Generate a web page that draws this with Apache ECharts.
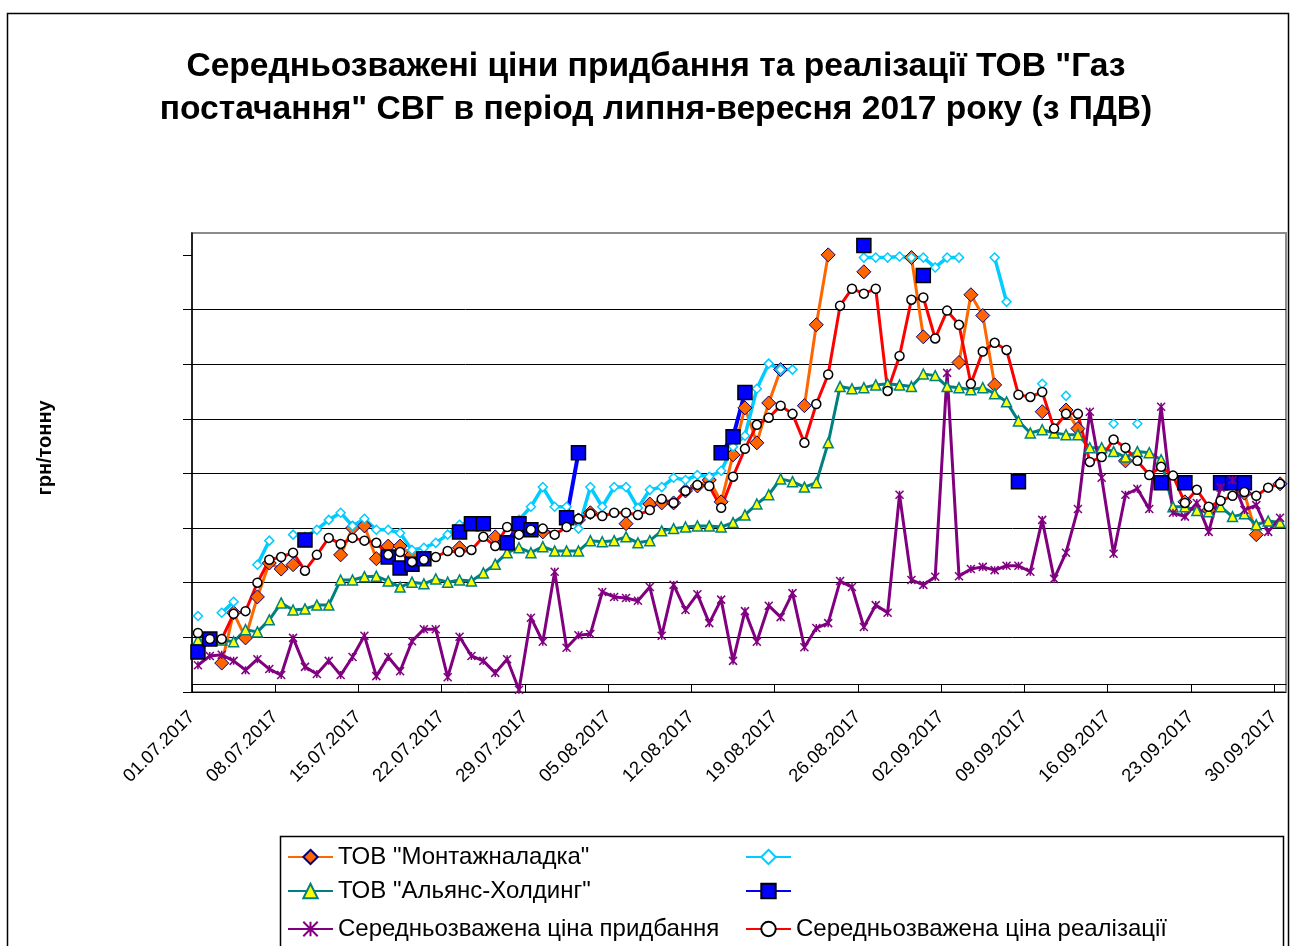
<!DOCTYPE html>
<html><head><meta charset="utf-8">
<script src="https://cdn.jsdelivr.net/npm/echarts@6/dist/echarts.min.js"></script>
<style>html,body{margin:0;padding:0;background:#fff}#c{width:1291px;height:946px}</style>
</head><body><div id="c"></div>
<script>
const dates = [
'01.07','02.07','03.07','04.07','05.07','06.07','07.07','08.07','09.07','10.07','11.07','12.07','13.07','14.07','15.07','16.07','17.07','18.07','19.07','20.07','21.07','22.07','23.07','24.07','25.07','26.07','27.07','28.07','29.07','30.07','31.07',
'01.08','02.08','03.08','04.08','05.08','06.08','07.08','08.08','09.08','10.08','11.08','12.08','13.08','14.08','15.08','16.08','17.08','18.08','19.08','20.08','21.08','22.08','23.08','24.08','25.08','26.08','27.08','28.08','29.08','30.08','31.08',
'01.09','02.09','03.09','04.09','05.09','06.09','07.09','08.09','09.09','10.09','11.09','12.09','13.09','14.09','15.09','16.09','17.09','18.09','19.09','20.09','21.09','22.09','23.09','24.09','25.09','26.09','27.09','28.09','29.09','30.09'];
const tickLabels = ['01.07.2017','08.07.2017','15.07.2017','22.07.2017','29.07.2017','05.08.2017','12.08.2017','19.08.2017','26.08.2017','02.09.2017','09.09.2017','16.09.2017','23.09.2017','30.09.2017'];

const montazh = [
null,null,530,1450,990,1740,2360,2250,2330,null,
null,null,2510,3000,3040,2440,2670,2670,2510,2440,
null,null,2640,null,null,2840,null,null,null,2930,
null,null,3150,3280,null,null,3080,null,3440,3460,
3460,3680,3770,3880,3480,4340,5200,4560,5290,5900,
null,5240,6720,8000,null,null,7690,null,null,null,
7950,6500,null,null,6030,7270,6890,5620,null,null,
null,5130,null,5160,4820,null,null,null,4230,null,
null,null,null,3480,null,3330,null,null,3640,2880,
null,3810];
const cyanSeries = [
1390,null,1450,1650,null,2330,2770,null,2880,2840,
2970,3150,3280,3040,3170,2970,2970,2910,2600,2640,
2730,2880,3060,3110,3110,null,null,3150,3390,3750,
3390,3390,2990,3750,3390,3750,3750,3370,3700,3750,
3920,3880,3970,3940,4050,4490,4690,5550,6010,5900,
5900,null,null,null,null,null,7950,7950,7950,7970,
7950,7950,7770,7950,7950,null,null,7950,7140,null,
null,5640,null,5420,null,null,null,4910,null,4910,
null,null,null,null,null,null,null,null,null,null,
null,null];
const alians = [
950,950,950,920,1140,1100,1320,1630,1500,1520,
1590,1590,2050,2050,2110,2120,2030,1920,2010,1980,
2070,2010,2050,2030,2180,2340,2550,2640,2550,2660,
2580,2580,2580,2770,2750,2770,2840,2730,2770,2950,
2990,3020,3040,3040,3020,3100,3240,3440,3610,3900,
3850,3750,3830,4560,5590,5550,5570,5620,5640,5620,
5590,5820,5790,5590,5570,5530,5570,5460,5310,4960,
4740,4800,4740,4710,4710,4470,4470,4400,4300,4400,
4380,4250,3390,3390,3320,3300,3390,3210,3260,3060,
3130,3100];
const blueSeries = [
730,970,null,null,null,null,null,null,null,2780,
null,null,null,null,null,null,2470,2270,2340,2440,
null,null,2930,3080,3080,null,2730,3080,2970,null,
null,3190,4380,null,null,null,null,null,null,null,
null,null,null,null,4380,4670,5480,null,null,null,
null,null,null,null,null,null,8170,null,null,null,
null,7620,null,null,null,null,null,null,null,3850,
null,null,null,null,null,null,null,null,null,null,
null,3830,null,3830,null,null,3830,3830,3830,null,
null,null];
const purchase = [
490,660,680,570,400,600,420,310,990,460,
330,570,310,640,1030,290,640,380,930,1150,
1150,270,1010,660,570,350,600,40,1360,920,
2200,810,1040,1060,1830,1740,1720,1670,1920,1030,
1960,1500,1790,1260,1690,570,1480,920,1580,1370,
1810,820,1170,1260,2030,1920,1190,1590,1450,3610,
2050,1960,2110,5840,2120,2250,2290,2230,2310,2310,
2200,3150,2070,2550,3350,5130,3920,2530,3610,3720,
3350,5220,3280,3210,3460,2930,3740,3880,3330,3420,
2930,3190];
const sales = [
1080,970,970,1430,1480,2000,2420,2470,2550,2220,
2510,2820,2710,2820,2770,2730,2510,2560,2380,2420,
2470,2580,2560,2600,2840,2670,3020,2880,2970,2990,
2880,3020,3170,3260,3220,3280,3280,3240,3330,3530,
3460,3680,3790,3770,3370,3940,4450,4890,5020,5240,
5090,4560,5270,5810,7070,7380,7290,7380,5510,6150,
7180,7220,6470,6980,6720,5640,6230,6390,6260,5440,
5400,5490,4820,5090,5090,4210,4300,4620,4470,4230,
3970,4120,3960,3460,3700,3390,3500,3590,3660,3590,
3740,3810];

const yTicks = [0,1000,2000,3000,4000,5000,6000,7000,8000];
const names = ['ТОВ "Монтажналадка"',' ','ТОВ "Альянс-Холдинг"','  ','Середньозважена ціна придбання','Середньозважена ціна реалізації'];
const FF = '"Liberation Sans", Arial, sans-serif';

const boundaryLabels = dates.concat(['']).map((d, i) => (i % 7 === 0 && tickLabels[i / 7]) ? tickLabels[i / 7] : '');
const every7 = (i) => i % 7 === 0 && i < 92;

const chart = echarts.init(document.getElementById('c'), null, {renderer: 'canvas'});
const legendCommon = {
  orient: 'horizontal', itemWidth: 45, itemHeight: 18, itemGap: 0, padding: 0,
  selectedMode: false,
  textStyle: {fontSize: 24, color: '#000', fontFamily: FF}
};
const base = {type: 'line', showAllSymbol: true, connectNulls: false, animation: false, emphasis: {disabled: true}};
chart.setOption({
  animation: false,
  backgroundColor: '#fff',
  title: {
    text: 'Середньозважені ціни придбання та реалізації ТОВ "Газ\nпостачання" СВГ в період липня-вересня 2017 року (з ПДВ)',
    left: 651, top: 40, textAlign: 'center',
    textStyle: {fontSize: 33.6, fontWeight: 'bold', color: '#000', fontFamily: FF, lineHeight: 43}
  },
  grid: {left: 192, right: 5, top: 233, bottom: 254, show: true, borderColor: '#8c8c8c', borderWidth: 2, backgroundColor: 'transparent'},
  legend: [
    Object.assign({data: [names[0]], left: 287, top: 845}, legendCommon),
    Object.assign({data: [names[1]], left: 745, top: 845}, legendCommon),
    Object.assign({data: [names[2]], left: 287, top: 879}, legendCommon),
    Object.assign({data: [names[3]], left: 745, top: 879}, legendCommon),
    Object.assign({data: [names[4]], left: 287, top: 917}, legendCommon),
    Object.assign({data: [names[5]], left: 745, top: 917}, legendCommon)
  ],
  xAxis: [
    {type: 'category', data: dates, boundaryGap: true,
     axisLine: {show: false}, axisTick: {show: false}, axisLabel: {show: false}, splitLine: {show: false}},
    {type: 'category', data: boundaryLabels, boundaryGap: false, position: 'bottom', offset: -8,
     axisLine: {show: true, lineStyle: {color: '#000', width: 1}},
     axisTick: {show: true, interval: every7, length: 8, lineStyle: {color: '#000', width: 1}},
     axisLabel: {interval: every7, rotate: 45, fontSize: 18.5, color: '#000', fontFamily: FF, margin: 30},
     splitLine: {show: false}}
  ],
  yAxis: {
    type: 'value', min: 0, max: 8400, interval: 1000,
    axisLine: {show: true, lineStyle: {color: '#000', width: 1.5}},
    axisTick: {show: true, length: 9, customValues: yTicks, lineStyle: {color: '#000', width: 1}},
    axisLabel: {show: false},
    splitLine: {show: true, showMaxLine: false, lineStyle: {color: '#000', width: 1}}
  },
  graphic: [
    {type: 'rect', shape: {x: 7.5, y: 13.5, width: 1281, height: 1000}, style: {fill: 'none', stroke: '#000', lineWidth: 1.5}, silent: true, z: -1},
    {type: 'rect', shape: {x: 280.5, y: 836.5, width: 1003, height: 200}, style: {fill: 'none', stroke: '#000', lineWidth: 1.5}, silent: true, z: -1},
    {type: 'text', x: 45, y: 448, rotation: Math.PI / 2, silent: true,
     style: {text: 'грн/тонну', font: 'bold 20px "Liberation Sans", Arial, sans-serif', fill: '#000', textAlign: 'center', textVerticalAlign: 'middle'}}
  ],
  series: [
    Object.assign({}, base, {name: names[0], data: montazh, symbol: 'diamond', symbolSize: 14,
      lineStyle: {color: '#FF6600', width: 3}, itemStyle: {color: '#FF6600', borderColor: '#000080', borderWidth: 1}}),
    Object.assign({}, base, {name: names[1], data: cyanSeries, symbol: 'diamond', symbolSize: 9,
      lineStyle: {color: '#00CCFF', width: 3.5}, itemStyle: {color: '#FFFFFF', borderColor: '#00CCFF', borderWidth: 1.5}}),
    Object.assign({}, base, {name: names[2], data: alians, symbol: 'triangle', symbolSize: 10,
      lineStyle: {color: '#008080', width: 3}, itemStyle: {color: '#FFFF00', borderColor: '#008080', borderWidth: 1.5}}),
    Object.assign({}, base, {name: names[3], data: blueSeries, symbol: 'rect', symbolSize: 14,
      lineStyle: {color: '#0000FF', width: 4}, itemStyle: {color: '#0000FF', borderColor: '#000000', borderWidth: 1.5}}),
    Object.assign({}, base, {name: names[4], data: purchase, symbol: 'path://M0,0L10,10M10,0L0,10M5,0L5,10', symbolSize: 8,
      lineStyle: {color: '#800080', width: 3}, itemStyle: {color: '#800080', borderColor: '#800080', borderWidth: 1.5}}),
    Object.assign({}, base, {name: names[5], data: sales, symbol: 'circle', symbolSize: 9,
      lineStyle: {color: '#FF0000', width: 3}, itemStyle: {color: '#FFFFFF', borderColor: '#000000', borderWidth: 1.5}})
  ]
});
</script></body></html>
